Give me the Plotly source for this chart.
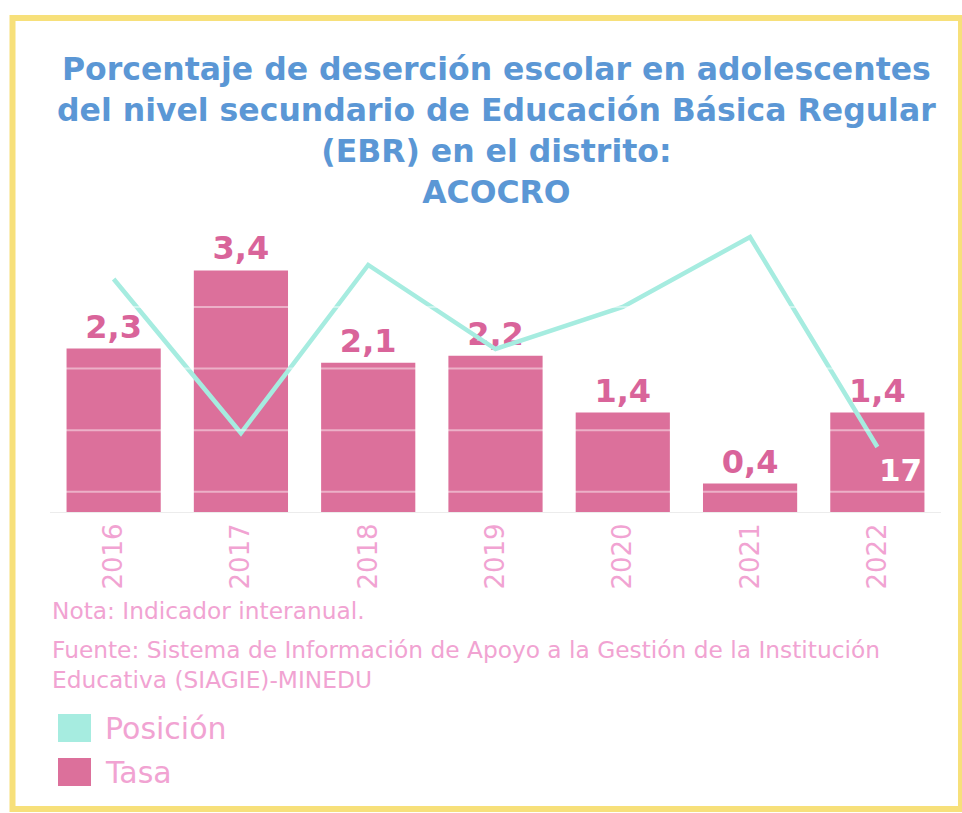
import plotly.graph_objects as go

# ---- data ----
years = ["2016", "2017", "2018", "2019", "2020", "2021", "2022"]
tasa = [2.3, 3.4, 2.1, 2.2, 1.4, 0.4, 1.4]
posicion = [5, 16, 4, 10, 7, 2, 17]
grid_positions = [7.0, 11.4, 15.8, 20.2]

title_lines = [
    "Porcentaje de deserción escolar en adolescentes",
    "del nivel secundario de Educación Básica Regular",
    "(EBR) en el distrito:",
    "ACOCRO",
]
nota = "Nota: Indicador interanual."
fuente = ["Fuente: Sistema de Información de Apoyo a la Gestión de la Institución",
          "Educativa (SIAGIE)-MINEDU"]
legend_names = ["Posición", "Tasa"]

# ---- styles ----
BAR = "#dc709b"
LABEL = "#d9649a"
LINE = "#a6ece0"
LIGHT_PINK = "#f1a3d2"
BLUE = "#5b97d5"
YELLOW = "#f7e07a"

fig = go.Figure()

fig.add_trace(go.Bar(
    x=years, y=tasa, name=legend_names[1],
    marker=dict(color=BAR, line=dict(width=0)),
    texttemplate="%{y:.1f}", textposition="outside",
    textfont=dict(family="DejaVu Sans", size=32, color=LABEL, weight="bold"),
    cliponaxis=False, showlegend=False,
))

fig.add_trace(go.Scatter(
    x=years, y=posicion, name=legend_names[0], yaxis="y2",
    mode="lines", line=dict(color=LINE, width=4.5), showlegend=False,
))

# label of the last position value (category index of the last year)
last = len(years) - 1
fig.add_annotation(x=last, y=posicion[last], xref="x", yref="y2",
                   text=f"<b>{posicion[last]}</b>", showarrow=False,
                   xanchor="left", yanchor="top", xshift=0, yshift=-3,
                   font=dict(family="DejaVu Sans", size=31, color="white"))

fig.update_layout(
    width=962, height=813,
    margin=dict(l=50, r=21, t=215, b=301),
    paper_bgcolor="white", plot_bgcolor="white",
    separators=",.",
    bargap=0.26,
    title=dict(
        text="<b>" + "<br>".join(title_lines) + "</b>",
        x=0.516, xanchor="center", xref="container",
        y=1 - 80 / 813, yanchor="top", yref="container",
        font=dict(family="DejaVu Sans", size=31.5, color=BLUE),
    ),
    xaxis=dict(
        type="category", range=[-0.5, len(years) - 0.5], tickangle=-90, showgrid=False,
        showline=True, linecolor="#ececec", linewidth=1,
        ticks="", ticklabelstandoff=0,
        tickfont=dict(family="DejaVu Sans", size=26, color=LIGHT_PINK),
    ),
    yaxis=dict(range=[0, 4.18], visible=False, showgrid=False),
    yaxis2=dict(range=[21.64, 0.43], overlaying="y", side="right",
                visible=False, showgrid=False),
    showlegend=False,
)

# white-ish gridlines across the bars (position axis gridlines)
for g in grid_positions:
    fig.add_shape(type="line", xref="paper", yref="y2", x0=0, x1=1, y0=g, y1=g,
                  line=dict(color="rgba(255,255,255,0.45)", width=2), layer="above")

# yellow frame
fig.add_shape(type="rect", xref="paper", yref="paper",
              x0=(12.5 - 50) / 891, x1=(961 - 50) / 891,
              y0=(512 - 809) / 297, y1=(512 - 18) / 297,
              line=dict(color=YELLOW, width=6), layer="above")

# notes
note_font = dict(family="DejaVu Sans", size=23.3, color=LIGHT_PINK)
fig.add_annotation(text=nota, xref="paper", yref="paper", x=0, y=(512 - 610) / 297,
                   xanchor="left", yanchor="middle", showarrow=False, font=note_font, align="left")
fig.add_annotation(text="<br>".join(fuente), xref="paper", yref="paper", x=0,
                   y=(512 - 664) / 297, xanchor="left", yanchor="middle", showarrow=False,
                   font=note_font, align="left")

# legend (swatches + labels)
legend_colors = [LINE, BAR]
legend_centers = [728, 772]
for name, col, cy in zip(legend_names, legend_colors, legend_centers):
    fig.add_shape(type="rect", xref="paper", yref="paper",
                  x0=(58 - 50) / 891, x1=(91 - 50) / 891,
                  y0=(512 - (cy - 14)) / 297, y1=(512 - (cy + 14)) / 297,
                  fillcolor=col, line=dict(width=0))
    fig.add_annotation(text=name, xref="paper", yref="paper", x=(103 - 50) / 891,
                       y=(512 - cy) / 297, xanchor="left", yanchor="middle", showarrow=False,
                       font=dict(family="DejaVu Sans", size=30, color=LIGHT_PINK))

fig.write_html("out.html", config={"displayModeBar": False},
               post_script="document.body.style.margin='0';document.body.style.overflow='hidden';")
